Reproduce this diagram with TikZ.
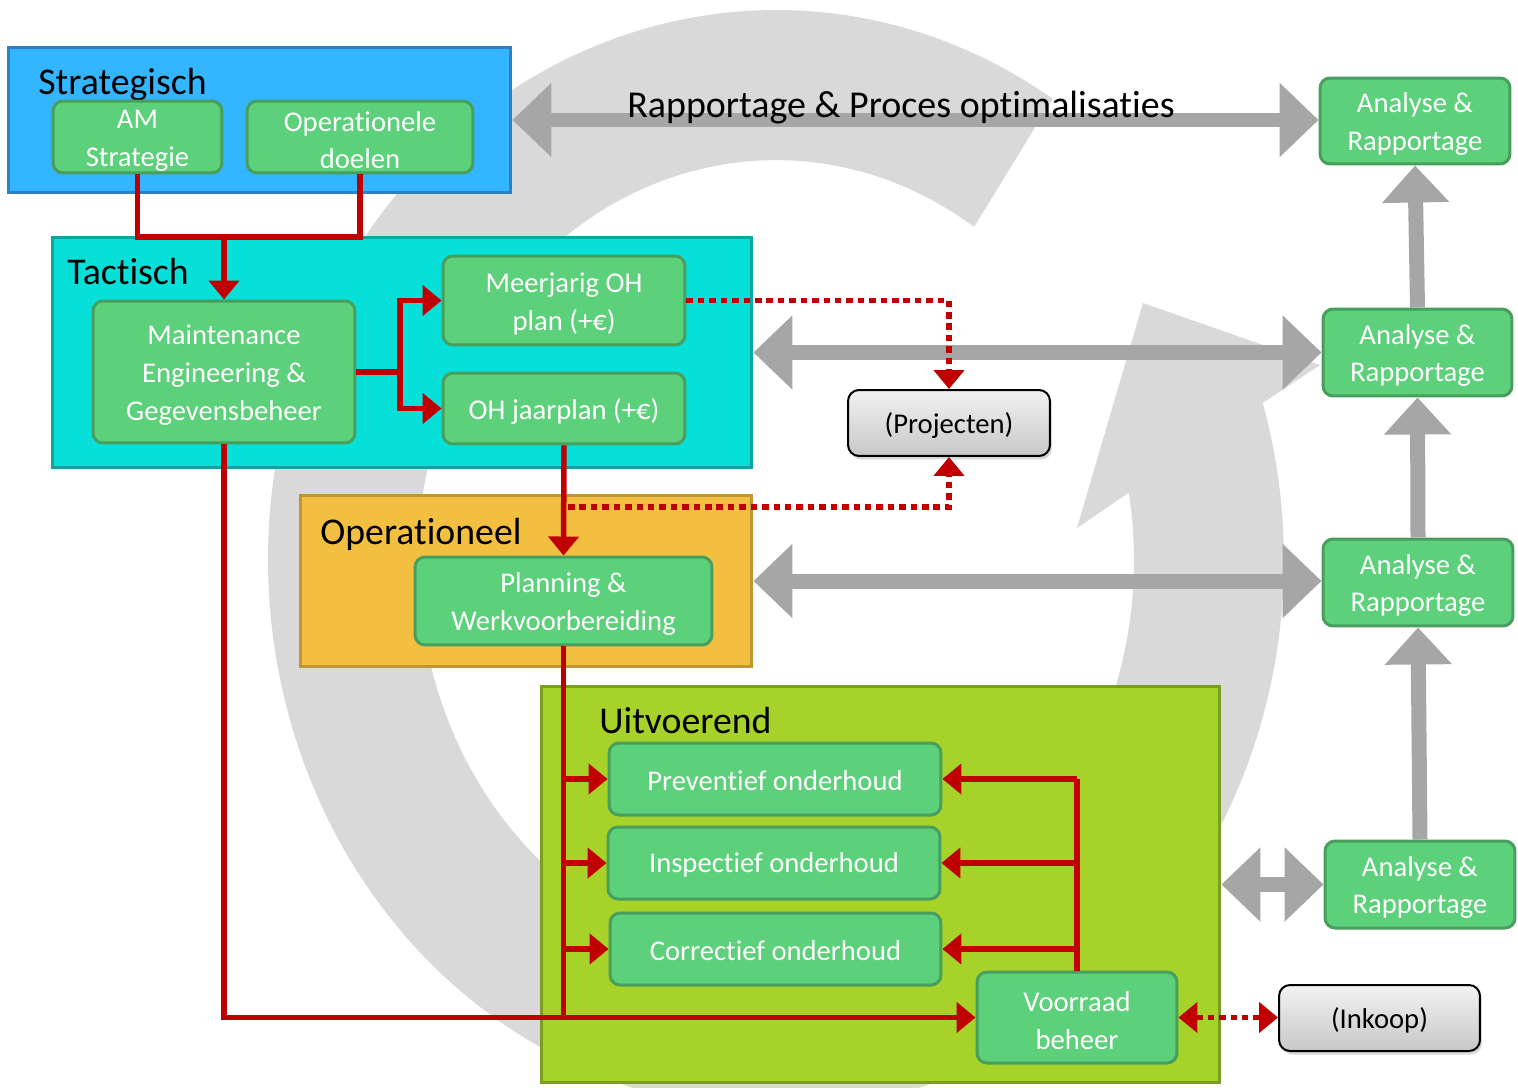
\documentclass[tikz,border=0pt]{standalone}
\usepackage{fontspec}
\setmainfont{Carlito}[Ligatures=NoCommon]
\usetikzlibrary{arrows.meta,calc,shadows}
\definecolor{ringgrey}{RGB}{217,217,217}
\definecolor{agrey}{RGB}{166,166,166}
\definecolor{sblue}{RGB}{51,181,255}
\definecolor{sblueb}{RGB}{46,128,190}
\definecolor{tcyan}{RGB}{6,224,216}
\definecolor{tcyanb}{RGB}{12,166,160}
\definecolor{ogold}{RGB}{243,191,64}
\definecolor{ogoldb}{RGB}{190,150,55}
\definecolor{ugreen}{RGB}{166,210,42}
\definecolor{ugreenb}{RGB}{122,158,34}
\definecolor{nfill}{RGB}{92,208,122}
\definecolor{nbord}{RGB}{72,158,92}
\definecolor{dred}{RGB}{192,0,0}
\newcommand\firstup{\rule{0pt}{14.8pt}}
\begin{document}
\begin{tikzpicture}[x=0.02cm,y=0.02cm,
  gnode/.style={draw=nbord, fill=nfill, line width=0.06cm, rounded corners=0.2cm,
    text=white, align=center, inner sep=0pt, font=\fontsize{16.3}{21.5}\selectfont},
  layerbox/.style={line width=0.06cm, inner sep=0pt},
  ltitle/.style={anchor=base west, inner sep=0pt, font=\fontsize{21.5}{26}\selectfont},
  extbox/.style={draw=black, line width=0.04cm, rounded corners=0.22cm,
    top color=white!95!black, bottom color=white!78!black, inner sep=0pt,
    font=\fontsize{16.3}{21.5}\selectfont,
    drop shadow={shadow xshift=0.04cm, shadow yshift=-0.07cm, opacity=0.3}},
  redline/.style={draw=dred, line width=0.11cm, >={Triangle[width=0.6cm,length=0.38cm]}},
  reddot/.style={redline, dash pattern=on 3.7pt off 2.8pt},
  greyarr/.style={draw=agrey, line width=0.3cm, >={Triangle[width=1.44cm,length=0.78cm]}},
  greyup/.style={draw=agrey, line width=0.3cm, >={Triangle[width=1.3cm,length=0.74cm]}}
]
\useasboundingbox (0,0) rectangle (1518,-1088);
\fill[white] (0,0) rectangle (1518,-1088);

% background circular arrow
\fill[ringgrey] ($(776,-560)+(57:10.16cm and 11cm)$)
  arc[start angle=57, end angle=376.6, x radius=10.16cm, y radius=11cm]
  -- (1320,-365) -- (1143,-303) -- (1077,-528)
  -- ($(776,-560)+(369.7:7.16cm and 8cm)$)
  arc[start angle=369.7, end angle=56.4, x radius=7.16cm, y radius=8cm] -- cycle;

% layer boxes
\node[layerbox, draw=sblueb, fill=sblue, minimum width=10.06cm, minimum height=2.92cm] (strat) at (259.5,-120) {};
\node[layerbox, draw=tcyanb, fill=tcyan, minimum width=14.0cm, minimum height=4.62cm] (tact) at (402,-352.5) {};
\node[layerbox, draw=ogoldb, fill=ogold, minimum width=9.04cm, minimum height=3.44cm] (oper) at (526,-581) {};
\node[layerbox, draw=ugreenb, fill=ugreen, minimum width=13.58cm, minimum height=7.94cm] (uitv) at (880.5,-884.5) {};

\node[ltitle] (tstrat) at (38,-94) {Strategisch};
\node[ltitle] (ttact) at (67,-284) {Tactisch};
\node[ltitle] (toper) at (320,-544) {Operationeel};
\node[ltitle] (tuitv) at (599,-733) {Uitvoerend};

% green nodes
\node[gnode, minimum width=3.38cm, minimum height=1.44cm] (am) at (137.5,-137) {\firstup AM\\Strategie};
\node[gnode, minimum width=4.52cm, minimum height=1.44cm] (od) at (360,-137) {\firstup Operationele\\doelen};
\node[gnode, minimum width=5.24cm, minimum height=2.84cm] (me) at (224,-372) {\firstup Maintenance\\Engineering \&\\Gegevensbeheer};
\node[gnode, minimum width=4.84cm, minimum height=1.78cm] (mj) at (564,-300.5) {\firstup Meerjarig OH\\plan (+€)};
\node[gnode, minimum width=4.84cm, minimum height=1.42cm] (jp) at (564,-408.5) {\firstup OH jaarplan (+€)};
\node[gnode, minimum width=5.94cm, minimum height=1.76cm] (pw) at (563.5,-601) {\firstup Planning \&\\Werkvoorbereiding};
\node[gnode, minimum width=6.64cm, minimum height=1.44cm] (po) at (775,-779) {\rule{0pt}{13.5pt}Preventief onderhoud};
\node[gnode, minimum width=6.64cm, minimum height=1.44cm] (io) at (774,-863) {\rule{0pt}{13.5pt}Inspectief onderhoud};
\node[gnode, minimum width=6.62cm, minimum height=1.44cm] (co) at (775.5,-949) {\rule{0pt}{13.5pt}Correctief onderhoud};
\node[gnode, minimum width=4.0cm, minimum height=1.82cm] (vb) at (1077,-1017.5) {\firstup Voorraad\\beheer};
\node[gnode, minimum width=3.8cm, minimum height=1.72cm] (an1) at (1415,-121) {\firstup Analyse \&\\Rapportage};
\node[gnode, minimum width=3.78cm, minimum height=1.74cm] (an2) at (1417.5,-352.5) {\firstup Analyse \&\\Rapportage};
\node[gnode, minimum width=3.8cm, minimum height=1.74cm] (an3) at (1418,-582.5) {\firstup Analyse \&\\Rapportage};
\node[gnode, minimum width=3.8cm, minimum height=1.74cm] (an4) at (1420,-884.5) {\firstup Analyse \&\\Rapportage};
\node[extbox, minimum width=4.04cm, minimum height=1.32cm] (pr) at (949,-423) {\firstup(Projecten)};
\node[extbox, minimum width=4.02cm, minimum height=1.32cm] (ik) at (1379.5,-1018) {\firstup(Inkoop)};

% grey arrows
\draw[greyarr, <->] (strat.east) -- (strat.east -| an1.west);
\draw[greyarr, <->] (tact.east) -- (tact.east -| an2.west);
\draw[greyarr, <->] (oper.east) -- (oper.east -| an3.west);
\draw[greyarr, <->] (uitv.east) -- (uitv.east -| an4.west);
\draw[greyup, ->] (an2.north) -- (an1.south);
\draw[greyup, ->] (an3.north) -- (an2.south);
\draw[greyup, ->] (an4.north) -- (an3.south);

% red connectors
\coordinate (j1) at (224,-237);
\draw[redline] (am.south) |- (j1) -| (od.south);
\draw[redline, ->] (j1) -- (me.north);
\coordinate (j2) at (400,-372);
\draw[redline] (me.east) -- (j2);
\draw[redline, ->] (j2) |- (mj.west);
\draw[redline, ->] (j2) |- (jp.west);
\draw[redline, ->] (jp.south) -- (pw.south |- pw.north);
\draw[redline] (pw.south) -- (pw.south |- vb.west);
\draw[redline, ->] (me.south) |- (vb.west);
\draw[redline, ->] (pw.south |- po.west) -- (po.west);
\draw[redline, ->] (pw.south |- io.west) -- (io.west);
\draw[redline, ->] (pw.south |- co.west) -- (co.west);
\draw[redline] (vb.north) -- (vb.north |- po.east);
\draw[redline, ->] (vb.north |- po.east) -- (po.east);
\draw[redline, ->] (vb.north |- io.east) -- (io.east);
\draw[redline, ->] (vb.north |- co.east) -- (co.east);

% dotted connectors
\coordinate (j4) at (568,-507);
\draw[reddot, ->] (mj.east) -| (pr.north);
\draw[reddot, ->] (j4) -| (pr.south);
\draw[reddot, <->] (vb.east) -- (vb.east -| ik.west);

% top label
\node[anchor=base west, inner sep=0pt, font=\fontsize{21.6}{25}\selectfont] (lbl) at (627,-117) {Rapportage \& Proces optimalisaties};
\end{tikzpicture}
\end{document}
